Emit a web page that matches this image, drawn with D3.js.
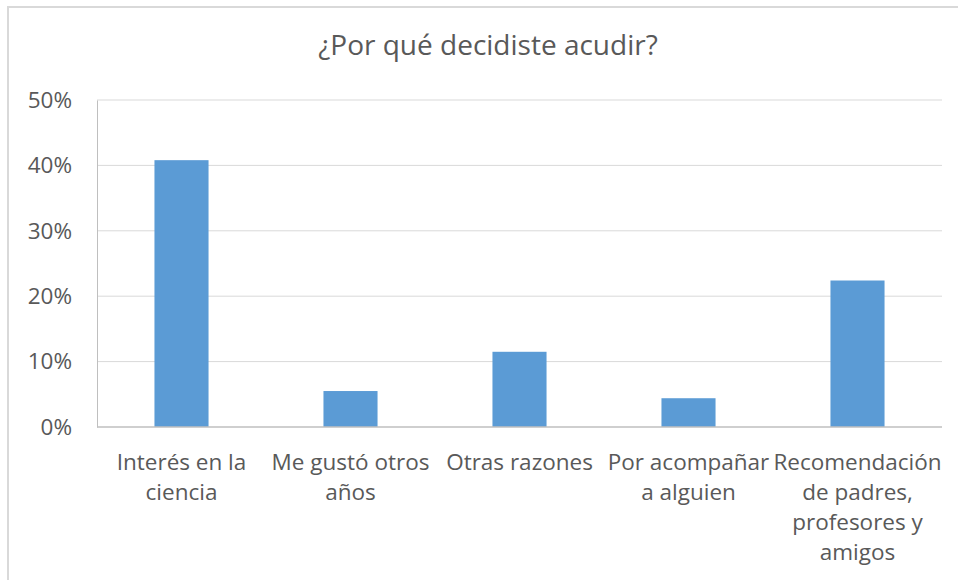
<!DOCTYPE html>
<html>
<head>
<meta charset="utf-8">
<script src="https://cdn.jsdelivr.net/npm/d3@7"></script>
<style>
  body { margin: 0; background: #fff; }
  text { font-family: "Open Sans", Lato, sans-serif; fill: #595959; }
</style>
</head>
<body>
<svg width="958" height="580"></svg>
<script>
// data
var title = "¿Por qué decidiste acudir?";
var categories = ["Interés en la ciencia", "Me gustó otros años", "Otras razones", "Por acompañar a alguien", "Recomendación de padres, profesores y amigos"];
var catLines = [
    ["Interés en la", "ciencia"],
    ["Me gustó otros", "años"],
    ["Otras razones"],
    ["Por acompañar", "a alguien"],
    ["Recomendación", "de padres,", "profesores y", "amigos"]
];
var values = [0.408, 0.055, 0.115, 0.044, 0.224];
var yTicks = [0, 0.1, 0.2, 0.3, 0.4, 0.5];

var svg = d3.select("svg");
var margin = {top: 100, right: 16, bottom: 153, left: 97};
var width = 958 - margin.left - margin.right;
var height = 580 - margin.top - margin.bottom;

// outer chart border (cropped at right and bottom)
svg.append("rect")
    .attr("x", 8).attr("y", 7)
    .attr("width", 970).attr("height", 600)
    .attr("fill", "none")
    .attr("stroke", "#d9d9d9")
    .attr("stroke-width", 2);

svg.append("text")
    .attr("x", 488).attr("y", 55)
    .attr("text-anchor", "middle")
    .style("font-size", "28px")
    .text(title);

var g = svg.append("g").attr("transform", "translate(" + margin.left + "," + margin.top + ")");

var x = d3.scaleBand().domain(categories).range([0, width]).paddingInner(0.68).paddingOuter(0.34);
var y = d3.scaleLinear().domain([0, 0.5]).range([height, 0]);

// gridlines
g.append("g")
    .selectAll("line")
    .data(yTicks.slice(1))
    .enter().append("line")
    .attr("x1", 0).attr("x2", width)
    .attr("y1", function(d) { return y(d); })
    .attr("y2", function(d) { return y(d); })
    .attr("stroke", "#d9d9d9")
    .attr("stroke-width", 1);

var yAxis = d3.axisLeft(y).tickValues(yTicks).tickFormat(d3.format(".0%")).tickSize(0).tickPadding(25);
var ya = g.append("g").call(yAxis);
ya.select(".domain").attr("stroke", "#bfbfbf");
ya.selectAll("text").style("font-size", "22.5px").attr("fill", "#595959").style("font-family", "'Open Sans', sans-serif");

g.selectAll(".bar")
    .data(values)
    .enter().append("rect")
    .attr("class", "bar")
    .attr("x", function(d, i) { return x(categories[i]); })
    .attr("width", x.bandwidth())
    .attr("y", function(d) { return y(d); })
    .attr("height", function(d) { return height - y(d); })
    .attr("fill", "#5b9bd5");

// x axis baseline
g.append("line")
    .attr("x1", 0).attr("x2", width)
    .attr("y1", height).attr("y2", height)
    .attr("stroke", "#bfbfbf")
    .attr("stroke-width", 1.3);

var labels = g.selectAll(".xlab")
    .data(categories)
    .enter().append("text")
    .attr("class", "xlab")
    .attr("text-anchor", "middle")
    .attr("transform", function(d) { return "translate(" + (x(d) + x.bandwidth() / 2) + "," + (height + 43) + ")"; })
    .style("font-size", "22.5px");

labels.selectAll("tspan")
    .data(function(d, i) { return catLines[i]; })
    .enter().append("tspan")
    .attr("x", 0)
    .attr("y", function(d, j) { return j * 30; })
    .text(function(d) { return d; });
</script>
</body>
</html>
